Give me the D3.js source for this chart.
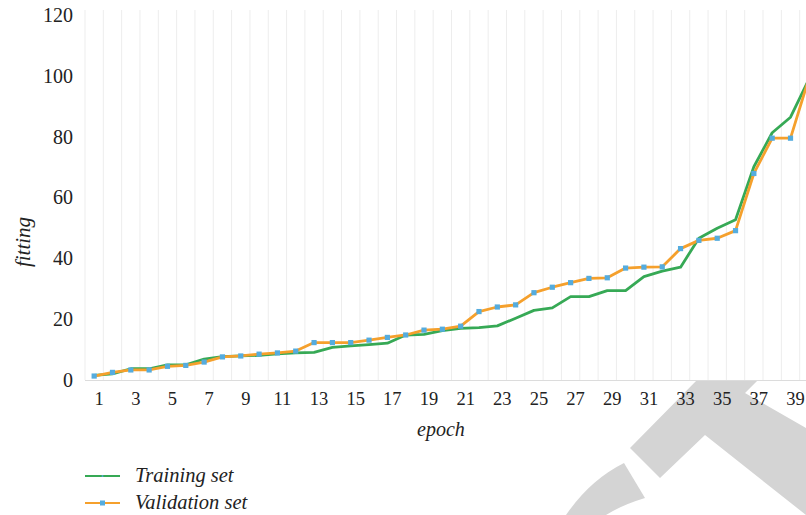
<!DOCTYPE html>
<html>
<head>
<meta charset="utf-8">
<script src="https://cdn.jsdelivr.net/npm/d3@7"></script>
<style>
  html, body { margin: 0; padding: 0; background: #ffffff; }
  svg { display: block; }
</style>
</head>
<body>
<svg id="chart" width="806" height="515"></svg>
<script>
// ---- data ----
const epochs = [1,2,3,4,5,6,7,8,9,10,11,12,13,14,15,16,17,18,19,20,
                21,22,23,24,25,26,27,28,29,30,31,32,33,34,35,36,37,38,39,40];
const trainingSet = [1.5,2.0,3.7,3.7,5.0,5.0,6.9,7.7,7.9,8.1,8.6,8.9,9.1,10.7,11.2,11.6,12.1,14.8,15.0,16.2,
                     17.0,17.2,17.8,20.3,22.9,23.7,27.4,27.4,29.4,29.4,34.0,35.8,37.1,46.6,49.9,52.7,70.1,81.3,86.4,98.8];
const validationSet = [1.3,2.5,3.3,3.3,4.5,4.8,5.9,7.6,7.9,8.5,8.9,9.5,12.3,12.3,12.3,13.1,14.0,14.8,16.4,16.7,
                       17.7,22.5,24.0,24.7,28.7,30.5,32.0,33.4,33.6,36.8,37.1,37.2,43.2,45.9,46.6,49.1,67.9,79.5,79.5,99.1];
const xTickLabels = [1,3,5,7,9,11,13,15,17,19,21,23,25,27,29,31,33,35,37,39];
const yTickLabels = [0,20,40,60,80,100,120];
const seriesNames = ["Training set", "Validation set"];

// ---- styles ----
const GREEN = "#36a955", ORANGE = "#f5a02c", BLUE = "#55acde";
const FONT = "'Liberation Serif', 'Times New Roman', serif";

const svg = d3.select("#chart");

// watermark decoration (behind everything)
const wm = svg.append("g").attr("fill", "#d4d4d4");
wm.append("path").attr("d", "M697,380 L758,380 L745,393 L806,428 L806,515 L705,435 L660,478 L630,448 Z");
wm.append("path").attr("d", "M624,463 L645,498 Q622,505 606,515 L566,515 Q590,480 624,463 Z");

const x = d3.scaleBand().domain(epochs).range([85, 818]).paddingInner(0).paddingOuter(0);
const y = d3.scaleLinear().domain([0, 120]).range([380, 15]);
const cx = d => x(d) + x.bandwidth() / 2;

// vertical grid lines at category boundaries
const bounds = epochs.map(d => x(d)).concat([x(epochs[epochs.length - 1]) + x.bandwidth()]);
svg.append("g").selectAll("line").data(bounds).join("line")
  .attr("x1", d => d).attr("x2", d => d)
  .attr("y1", 10).attr("y2", 380)
  .attr("stroke", "#ededed").attr("stroke-width", 1);

// x axis baseline
svg.append("line").attr("x1", 85).attr("x2", 806).attr("y1", 380.5).attr("y2", 380.5)
  .attr("stroke", "#dcdcdc").attr("stroke-width", 1);

// axes
const xAxis = svg.append("g").attr("transform", "translate(0,380)")
  .call(d3.axisBottom(x).tickValues(xTickLabels).tickSize(0).tickPadding(12));
xAxis.select(".domain").remove();
xAxis.selectAll("text").attr("dx", 5).attr("font-family", FONT).attr("font-size", 18.5).attr("fill", "#222");

const yAxis = svg.append("g").attr("transform", "translate(85,0)")
  .call(d3.axisLeft(y).tickValues(yTickLabels).tickSize(0).tickPadding(12));
yAxis.select(".domain").remove();
yAxis.selectAll("text").attr("font-family", FONT).attr("font-size", 20).attr("fill", "#222");

// axis titles
svg.append("text").attr("x", 441).attr("y", 436).attr("text-anchor", "middle")
  .attr("font-family", FONT).attr("font-style", "italic").attr("font-size", 20).attr("fill", "#222")
  .text("epoch");
svg.append("text").attr("transform", "translate(30,242) rotate(-90)").attr("text-anchor", "middle")
  .attr("font-family", FONT).attr("font-style", "italic").attr("font-size", 21).attr("fill", "#222")
  .text("fitting");

// lines
const line = vals => d3.line().x((d, i) => cx(epochs[i])).y(d => y(d))(vals);
const plot = svg.append("g");
plot.append("path").attr("d", line(trainingSet)).attr("fill", "none")
  .attr("stroke", GREEN).attr("stroke-width", 2.8).attr("stroke-linejoin", "round");
plot.append("path").attr("d", line(validationSet)).attr("fill", "none")
  .attr("stroke", ORANGE).attr("stroke-width", 2.8).attr("stroke-linejoin", "round");

// markers
plot.append("g").selectAll("rect").data(validationSet).join("rect")
  .attr("x", (d, i) => cx(epochs[i]) - 2.6).attr("y", d => y(d) - 2.6)
  .attr("width", 5.2).attr("height", 5.2).attr("fill", BLUE);

// legend
const legend = svg.append("g");
const legendRows = [
  { name: seriesNames[0], color: GREEN, marker: 1.6, y: 476 },
  { name: seriesNames[1], color: ORANGE, marker: 5, y: 503 }
];
legendRows.forEach(r => {
  legend.append("line").attr("x1", 85).attr("x2", 120).attr("y1", r.y).attr("y2", r.y)
    .attr("stroke", r.color).attr("stroke-width", 2);
  legend.append("rect").attr("x", 102.5 - r.marker / 2).attr("y", r.y - r.marker / 2)
    .attr("width", r.marker).attr("height", r.marker).attr("fill", BLUE);
  legend.append("text").attr("x", 135).attr("y", r.y + 6)
    .attr("font-family", FONT).attr("font-style", "italic").attr("font-size", 20.5).attr("fill", "#222")
    .text(r.name);
});
</script>
</body>
</html>
